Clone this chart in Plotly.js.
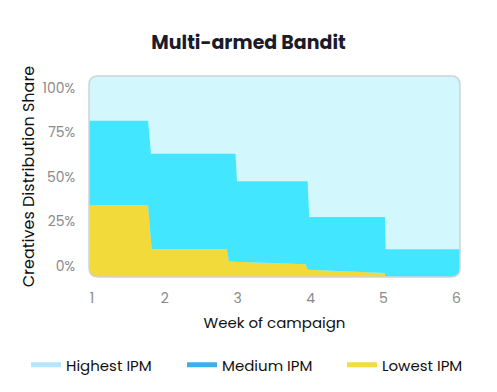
<!DOCTYPE html>
<html>
<head>
<meta charset="utf-8">
<script src="https://cdn.plot.ly/plotly-3.0.1.min.js"></script>
<style>html,body{margin:0;padding:0;background:#fff;}#chart{width:497px;height:392px;}</style>
</head>
<body>
<div id="chart"></div>
<script>
// Data (percent share, stacked cumulative tops)
const seriesNames = ["Highest IPM", "Medium IPM", "Lowest IPM"];
const weekTicks = [1, 2, 3, 4, 5, 6];
const shareTicks = [0, 25, 50, 75, 100];
const shareTickLabels = ["0%", "25%", "50%", "75%", "100%"];

const mediumX   = [0.96, 1.77, 1.81, 2.97, 2.99, 3.96, 3.98, 5.02, 5.03, 6.05];
const mediumTop = [81.6, 81.6, 63.1, 63.1, 47.7, 47.7, 27.6, 27.6, 9.5, 9.5];
const lowestX   = [0.96, 1.77, 1.82, 2.85, 2.88, 3.93, 3.96, 5.02, 5.03, 6.05];
const lowestTop = [34.1, 34.1, 9.5, 9.5, 2.6, 1.1, -2.0, -3.9, -12, -12];
const baseX = [0.96, 6.05];
const baseY = [-12, -12];

const fillColors = {high: "#d2f8fe", med: "#43e6ff", low: "#f2da3a"};
const legendColors = {high: "#b5e6fb", med: "#3caeea", low: "#f2dc40"};

const font = "Poppins, Inter, 'Open Sans', sans-serif";

const traces = [
  {x: baseX, y: baseY, mode: "lines", line: {width: 0}, showlegend: false, hoverinfo: "skip"},
  {x: lowestX, y: lowestTop, mode: "lines", line: {width: 0}, fill: "tonexty", fillcolor: fillColors.low, showlegend: false},
  {x: mediumX, y: mediumTop, mode: "lines", line: {width: 0}, fill: "tonexty", fillcolor: fillColors.med, showlegend: false},
  // legend entries (one legend box each, to keep them on one row)
  {x: [-5, -4], y: [-50, -50], mode: "lines", name: seriesNames[0], legend: "legend", line: {color: legendColors.high, width: 5}},
  {x: [-5, -4], y: [-50, -50], mode: "lines", name: seriesNames[1], legend: "legend2", line: {color: legendColors.med, width: 5}},
  {x: [-5, -4], y: [-50, -50], mode: "lines", name: seriesNames[2], legend: "legend3", line: {color: legendColors.low, width: 5}}
];

const W = 371, H = 202, r = 9;
const rx = r / W, ry = r / H;
const e = 0.01;
const corners = [
  `M ${-e},${1-ry} L 0,${1-ry} Q 0,1 ${rx},1 L ${rx},${1+e} L ${-e},${1+e} Z`,
  `M ${1+e},${1-ry} L 1,${1-ry} Q 1,1 ${1-rx},1 L ${1-rx},${1+e} L ${1+e},${1+e} Z`,
  `M ${-e},${ry} L 0,${ry} Q 0,0 ${rx},0 L ${rx},${-e} L ${-e},${-e} Z`,
  `M ${1+e},${ry} L 1,${ry} Q 1,0 ${1-rx},0 L ${1-rx},${-e} L ${1+e},${-e} Z`
];
const shapes = corners.map(p => ({type: "path", xref: "paper", yref: "paper", path: p, fillcolor: "#ffffff", line: {width: 0}, layer: "above"}));
shapes.push({
  type: "path", xref: "paper", yref: "paper", layer: "above",
  path: `M ${rx},0 L ${1-rx},0 Q 1,0 1,${ry} L 1,${1-ry} Q 1,1 ${1-rx},1 L ${rx},1 Q 0,1 0,${1-ry} L 0,${ry} Q 0,0 ${rx},0 Z`,
  line: {color: "#cfd3d6", width: 1.5}, fillcolor: "rgba(0,0,0,0)"
});

const legendBase = {orientation: "h", xref: "paper", yref: "paper", xanchor: "left", y: -(365-278)/202, yanchor: "middle",
  font: {size: 15, color: "#111"}, itemwidth: 30, bgcolor: "rgba(0,0,0,0)"};
const legendLefts = [26, 182, 342];

const layout = {
  width: 497, height: 392,
  margin: {l: 89, r: 37, t: 76, b: 114},
  paper_bgcolor: "#ffffff",
  plot_bgcolor: fillColors.high,
  font: {family: font, color: "#111"},
  title: {text: "<b>Multi-armed Bandit</b>", font: {size: 19, color: "#1b1b2a", family: font}, x: 0.5, xref: "container", xanchor: "center", y: 1 - 42/392, yref: "container", yanchor: "middle"},
  xaxis: {
    range: [0.96, 6.05], tickvals: weekTicks, ticktext: weekTicks.map(String),
    showgrid: false, zeroline: false, showline: false,
    ticks: "outside", ticklen: 8, tickcolor: "rgba(0,0,0,0)",
    tickfont: {size: 14, color: "#8a8a8a"},
    title: {text: "Week of campaign", font: {size: 15, color: "#111"}, standoff: 10}
  },
  yaxis: {
    range: [-6.1, 106.7], tickvals: shareTicks, ticktext: shareTickLabels,
    showgrid: false, zeroline: false, showline: false,
    ticks: "outside", ticklen: 10, tickcolor: "rgba(0,0,0,0)",
    tickfont: {size: 14, color: "#8a8a8a"},
    title: {text: "Creatives Distribution Share", font: {size: 16, color: "#111"}, standoff: 3}
  },
  legend:  Object.assign({}, legendBase, {x: (legendLefts[0]-89)/371}),
  legend2: Object.assign({}, legendBase, {x: (legendLefts[1]-89)/371}),
  legend3: Object.assign({}, legendBase, {x: (legendLefts[2]-89)/371}),
  shapes: shapes,
  showlegend: true
};

Plotly.newPlot("chart", traces, layout, {displayModeBar: false, staticPlot: true});
</script>
</body>
</html>
